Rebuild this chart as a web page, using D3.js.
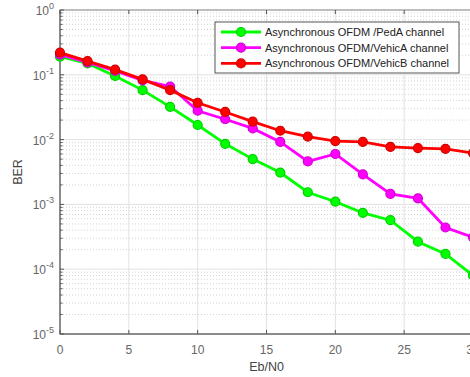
<!DOCTYPE html>
<html>
<head>
<meta charset="utf-8">
<script src="https://cdn.jsdelivr.net/npm/d3@7"></script>
<style>
  body { margin: 0; background: #fff; }
  svg { font-family: "Liberation Sans", Arial, sans-serif; }
</style>
</head>
<body>
<div id="chart"></div>
<script>
// Eb/N0 values and BER per channel
const ebn0 = [0, 2, 4, 6, 8, 10, 12, 14, 16, 18, 20, 22, 24, 26, 28, 30];
const pedA = [0.19, 0.15, 0.096, 0.058, 0.032, 0.0168, 0.0086, 0.005, 0.0031, 0.00154, 0.0011, 0.00074, 0.00057, 0.000266, 0.000172, 0.00008];
const vehicA = [0.205, 0.155, 0.115, 0.082, 0.066, 0.0279, 0.0206, 0.0149, 0.0092, 0.0046, 0.006, 0.0029, 0.00145, 0.00124, 0.00044, 0.00031];
const vehicB = [0.22, 0.163, 0.12, 0.085, 0.058, 0.037, 0.0267, 0.0189, 0.0137, 0.0111, 0.0095, 0.0092, 0.0077, 0.0074, 0.0072, 0.0062];
const seriesNames = ['Asynchronous OFDM /PedA channel', 'Asynchronous OFDM/VehicA channel', 'Asynchronous OFDM/VehicB channel'];
const seriesColors = ['#00ff00', '#ff00ff', '#ff0000'];
const xTicks = [0, 5, 10, 15, 20, 25, 30];
const yExponents = [0, -1, -2, -3, -4, -5];

const width = 470, height = 377;
const margin = { top: 10, right: -3, bottom: 43, left: 60 };

const svg = d3.select('#chart').append('svg')
  .attr('width', width)
  .attr('height', height);

const x = d3.scaleLinear().domain([0, 30]).range([margin.left, width - margin.right]);
const y = d3.scaleLog().domain([1e-5, 1]).range([height - margin.bottom, margin.top]);

const axisColor = '#8c8c8c';
const x0 = x(0), x1 = x(30), yTop = y(1), yBot = y(1e-5);

// minor grid (dotted)
const minors = [];
yExponents.slice(1).forEach(e => {
  for (let k = 2; k <= 9; k++) minors.push(k * Math.pow(10, e));
});
svg.append('g').selectAll('line')
  .data(minors)
  .join('line')
    .attr('x1', x0).attr('x2', x1)
    .attr('y1', d => y(d)).attr('y2', d => y(d))
    .attr('stroke', '#d4d4d4')
    .attr('stroke-width', 1)
    .attr('stroke-dasharray', '1,2');

// major grid
svg.append('g').selectAll('line')
  .data(yExponents.map(e => Math.pow(10, e)))
  .join('line')
    .attr('x1', x0).attr('x2', x1)
    .attr('y1', d => y(d)).attr('y2', d => y(d))
    .attr('stroke', '#e2e2e2');
svg.append('g').selectAll('line')
  .data(xTicks)
  .join('line')
    .attr('x1', d => x(d)).attr('x2', d => x(d))
    .attr('y1', yTop).attr('y2', yBot)
    .attr('stroke', '#e2e2e2');

// box
svg.append('rect')
  .attr('x', x0).attr('y', yTop)
  .attr('width', x1 - x0).attr('height', yBot - yTop)
  .attr('fill', 'none')
  .attr('stroke', axisColor)
  .attr('stroke-width', 1);
svg.append('line').attr('x1', x0).attr('x2', x0).attr('y1', yTop).attr('y2', yBot)
  .attr('stroke', axisColor).attr('stroke-width', 2);
svg.append('line').attr('x1', x0).attr('x2', x1).attr('y1', yBot).attr('y2', yBot)
  .attr('stroke', axisColor).attr('stroke-width', 2);

// ticks pointing inward
svg.append('g').selectAll('line')
  .data(xTicks)
  .join('line')
    .attr('x1', d => x(d)).attr('x2', d => x(d))
    .attr('y1', yBot).attr('y2', yBot - 4)
    .attr('stroke', '#555');
svg.append('g').selectAll('line')
  .data(xTicks)
  .join('line')
    .attr('x1', d => x(d)).attr('x2', d => x(d))
    .attr('y1', yTop).attr('y2', yTop + 4)
    .attr('stroke', '#555');
svg.append('g').selectAll('line')
  .data(yExponents.map(e => Math.pow(10, e)))
  .join('line')
    .attr('x1', x0).attr('x2', x0 + 4)
    .attr('y1', d => y(d)).attr('y2', d => y(d))
    .attr('stroke', '#555');
svg.append('g').selectAll('line')
  .data(minors)
  .join('line')
    .attr('x1', x0).attr('x2', x0 + 2.5)
    .attr('y1', d => y(d)).attr('y2', d => y(d))
    .attr('stroke', '#555');

// tick labels
const labelColor = '#666';
svg.append('g').selectAll('text')
  .data(xTicks)
  .join('text')
    .attr('x', d => x(d))
    .attr('y', yBot + 20)
    .attr('text-anchor', 'middle')
    .attr('font-size', 12)
    .attr('fill', labelColor)
    .text(d => d);

const yl = svg.append('g').selectAll('text')
  .data(yExponents)
  .join('text')
    .attr('x', x0 - 6)
    .attr('y', d => y(Math.pow(10, d)) + 5)
    .attr('text-anchor', 'end')
    .attr('font-size', 12)
    .attr('fill', labelColor);
yl.append('tspan').text('10');
yl.append('tspan').attr('dy', -6).attr('font-size', 9).text(d => d);

// axis titles
svg.append('text')
  .attr('x', x(15)).attr('y', yBot + 37)
  .attr('text-anchor', 'middle')
  .attr('font-size', 12.5)
  .attr('fill', '#444')
  .text('Eb/N0');
svg.append('text')
  .attr('transform', `translate(22,${(yTop + yBot) / 2}) rotate(-90)`)
  .attr('text-anchor', 'middle')
  .attr('font-size', 12.5)
  .attr('fill', '#444')
  .text('BER');

// series
const allSeries = [pedA, vehicA, vehicB];
const line = d3.line().x((d, i) => x(ebn0[i])).y(d => y(d));

allSeries.forEach((vals, s) => {
  const g = svg.append('g');
  g.append('path')
    .datum(vals)
    .attr('d', line)
    .attr('fill', 'none')
    .attr('stroke', seriesColors[s])
    .attr('stroke-width', 2.8);
  g.selectAll('circle')
    .data(vals)
    .join('circle')
      .attr('cx', (d, i) => x(ebn0[i]))
      .attr('cy', d => y(d))
      .attr('r', 4.5)
      .attr('fill', seriesColors[s])
      .attr('stroke', d3.color(seriesColors[s]).darker(0.6))
      .attr('stroke-width', 1.2);
});

// legend
const legend = svg.append('g').attr('transform', 'translate(215,22)');
legend.append('rect')
  .attr('width', 244).attr('height', 51)
  .attr('fill', '#fff')
  .attr('stroke', '#555')
  .attr('stroke-width', 1);
seriesNames.forEach((name, i) => {
  const ly = 10 + i * 15.7;
  legend.append('line')
    .attr('x1', 6).attr('x2', 46).attr('y1', ly).attr('y2', ly)
    .attr('stroke', seriesColors[i]).attr('stroke-width', 2.8);
  legend.append('circle')
    .attr('cx', 26).attr('cy', ly).attr('r', 4.5)
    .attr('fill', seriesColors[i])
    .attr('stroke', d3.color(seriesColors[i]).darker(0.6))
    .attr('stroke-width', 1.2);
  legend.append('text')
    .attr('x', 50).attr('y', ly + 4)
    .attr('font-size', 11)
    .attr('fill', '#222')
    .text(name);
});
</script>
</body>
</html>
